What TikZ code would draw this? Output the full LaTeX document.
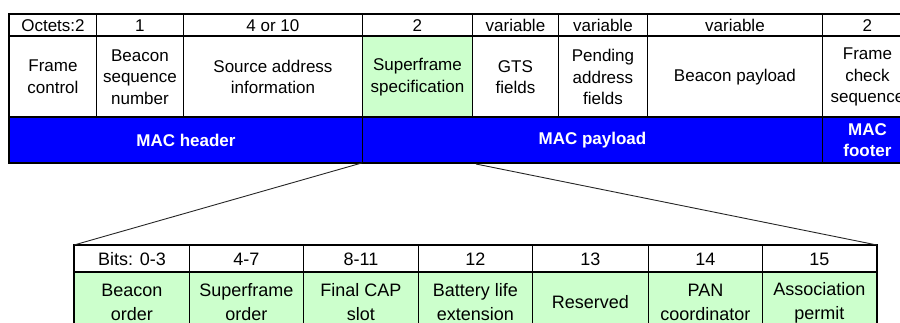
\documentclass[tikz,border=0pt]{standalone}
\usepackage{fontspec}
\setmainfont{Liberation Sans}
\definecolor{macblue}{RGB}{0,0,255}
\definecolor{specgreen}{RGB}{204,255,204}

\begin{document}
\begin{tikzpicture}[x=1pt,y=-1pt,
    cell/.style={draw, line width=0.9pt, anchor=north west, inner sep=0pt, align=center,
      font=\fontsize{17}{21.5}\selectfont},
    bitcell/.style={cell, fill=specgreen, font=\fontsize{18}{24}\selectfont},
    macbar/.style={cell, fill=macblue, text=white, font=\fontsize{17}{21}\selectfont\bfseries}]
        \useasboundingbox (0,0) rectangle (900,322);
        \clip (0,0) rectangle (900,322);

        % Octet sizes
        \node[cell, minimum width=87pt, minimum height=22pt] (oct1) at (9,14) {Octets:2};
        \node[cell, minimum width=87pt, minimum height=22pt] (oct2) at (96,14) {1};
        \node[cell, minimum width=179pt, minimum height=22pt] (oct3) at (183,14) {4 or 10};
        \node[cell, minimum width=110pt, minimum height=22pt] (oct4) at (362,14) {2};
        \node[cell, minimum width=86pt, minimum height=22pt] (oct5) at (472,14) {variable};
        \node[cell, minimum width=89pt, minimum height=22pt] (oct6) at (558,14) {variable};
        \node[cell, minimum width=175pt, minimum height=22pt] (oct7) at (647,14) {variable};
        \node[cell, minimum width=90pt, minimum height=22pt] (oct8) at (822,14) {2};

        % Frame fields
        \node[cell, minimum width=87pt, minimum height=81pt] (fctrl) at (9,36) {Frame\\control};
        \node[cell, minimum width=87pt, minimum height=81pt] (bsn) at (96,36) {Beacon\\sequence\\number};
        \node[cell, minimum width=179pt, minimum height=81pt] (src) at (183,36) {Source address\\information};
        \node[cell, fill=specgreen, minimum width=110pt, minimum height=81pt] (sfspec) at (362,36) {Superframe\\specification};
        \node[cell, minimum width=86pt, minimum height=81pt] (gts) at (472,36) {GTS\\fields};
        \node[cell, minimum width=89pt, minimum height=81pt] (pend) at (558,36) {Pending\\address\\fields};
        \node[cell, minimum width=175pt, minimum height=81pt] (bpay) at (647,36) {Beacon payload};
        \node[cell, minimum width=90pt, minimum height=81pt] (fcs) at (822,36) {Frame\\check\\sequence};

        % MAC parts
        \node[macbar, minimum width=353pt, minimum height=45pt] (mhdr) at (9,117) {MAC header};
        \node[macbar, minimum width=460pt, minimum height=45pt] (mpay) at (362,117) {MAC payload};
        \node[macbar, minimum width=90pt, minimum height=45pt] (mfoot) at (822,117) {MAC\\footer};

        % Outline of frame
        \draw[line width=1.8pt] (fctrl.north west) -- (fcs.north east);
        \draw[line width=1.8pt] (mhdr.north west) -- (mfoot.north east);
        \draw[line width=2.5pt] (oct1.north west) rectangle (mfoot.south east);

        % Bit positions
        \node[cell, minimum width=115pt, minimum height=27pt, font=\fontsize{18}{24}\selectfont] (bit1) at (74,245) {Bits: 0-3};
        \node[cell, minimum width=114pt, minimum height=27pt, font=\fontsize{18}{24}\selectfont] (bit2) at (189,245) {4-7};
        \node[cell, minimum width=115pt, minimum height=27pt, font=\fontsize{18}{24}\selectfont] (bit3) at (303,245) {8-11};
        \node[cell, minimum width=114pt, minimum height=27pt, font=\fontsize{18}{24}\selectfont] (bit4) at (418,245) {12};
        \node[cell, minimum width=116pt, minimum height=27pt, font=\fontsize{18}{24}\selectfont] (bit5) at (532,245) {13};
        \node[cell, minimum width=114pt, minimum height=27pt, font=\fontsize{18}{24}\selectfont] (bit6) at (648,245) {14};
        \node[cell, minimum width=114pt, minimum height=27pt, font=\fontsize{18}{24}\selectfont] (bit7) at (762,245) {15};

        % Superframe fields
        \node[bitcell, minimum width=115pt, minimum height=60pt] (bord) at (74,272) {Beacon\\order};
        \node[bitcell, minimum width=114pt, minimum height=60pt] (sord) at (189,272) {Superframe\\order};
        \node[bitcell, minimum width=115pt, minimum height=60pt] (fcap) at (303,272) {Final CAP\\slot};
        \node[bitcell, minimum width=114pt, minimum height=60pt] (ble) at (418,272) {Battery life\\extension};
        \node[bitcell, minimum width=116pt, minimum height=60pt] (resv) at (532,272) {Reserved};
        \node[bitcell, minimum width=114pt, minimum height=60pt] (panc) at (648,272) {PAN\\coordinator};
        \node[bitcell, minimum width=114pt, minimum height=60pt] (assoc) at (762,272) {Association\\permit};

        % Outline of superframe spec
        \draw[line width=1.8pt] (bord.north west) -- (assoc.north east);
        \draw[line width=2.5pt] (bit1.north west) rectangle (assoc.south east);

        % Zoom lines
        \coordinate (zoomR) at (476,164);
        \draw[line width=0.9pt, black!85] (mpay.south west) -- (bit1.north west);
        \draw[line width=0.9pt, black!85] (zoomR) -- (bit7.north east);
    \end{tikzpicture}
\end{document}
